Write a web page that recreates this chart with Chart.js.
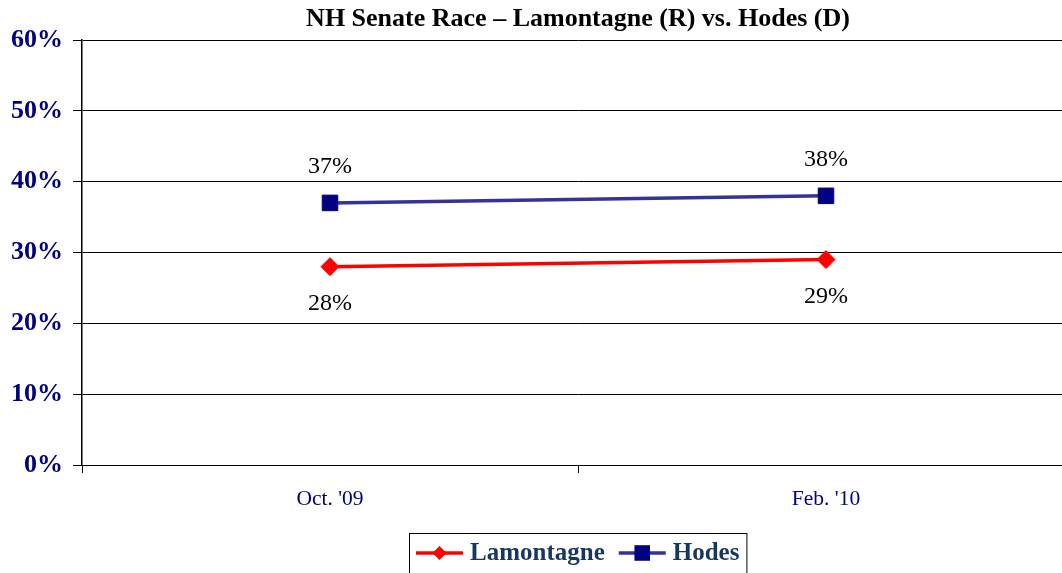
<!DOCTYPE html>
<html>
<head>
<meta charset="utf-8">
<script src="https://cdn.jsdelivr.net/npm/chart.js@4.4.1/dist/chart.umd.min.js"></script>
<style>
    html, body { margin: 0; padding: 0; background: #fff; overflow: hidden; }
    #wrap { width: 1086px; height: 573px; }
</style>
</head>
<body>
<div id="wrap"><canvas id="raceChart" width="1086" height="573"></canvas></div>
<script>
const categories = ["Oct. '09", "Feb. '10"];
const lamontagne = [28, 29];
const hodes = [37, 38];
const yMin = 0;
const yMax = 60;
const yStep = 10;

const serif = '"Liberation Serif", "Times New Roman", serif';

// valores em cima / embaixo dos pontos
const pointLabels = {
    id: 'pointLabels',
    afterDatasetsDraw(chart) {
        const ctx = chart.ctx;
        ctx.save();
        ctx.font = '24px ' + serif;
        ctx.fillStyle = '#000';
        ctx.textAlign = 'center';
        ctx.textBaseline = 'middle';
        chart.data.datasets.forEach((ds, i) => {
            const meta = chart.getDatasetMeta(i);
            meta.data.forEach((pt, j) => {
                const dy = ds.labelSide === 'above' ? -36 : 37;
                ctx.fillText(ds.data[j] + '%', pt.x, pt.y + dy);
            });
        });
        ctx.restore();
    }
};

// legenda com linha + marcador, dentro de uma caixa
const boxLegend = {
    id: 'boxLegend',
    afterDraw(chart) {
        const ctx = chart.ctx;
        const area = chart.chartArea;
        const sample = 47, gap = 7, itemGap = 14, pad = 7;
        ctx.save();
        ctx.font = 'bold 25px ' + serif;
        const items = chart.data.datasets.map(ds => ({ ds, w: ctx.measureText(ds.label).width }));
        let total = pad * 2 + itemGap * (items.length - 1);
        items.forEach(it => { total += sample + gap + it.w; });
        const cx = (area.left + area.right) / 2;
        let x = Math.round(cx - total / 2);
        const top = 533;
        const midY = 553;
        ctx.strokeStyle = '#000';
        ctx.lineWidth = 1;
        ctx.strokeRect(x + 0.5, top + 0.5, total, 80);
        x += pad;
        items.forEach(it => {
            const ds = it.ds;
            ctx.strokeStyle = ds.borderColor;
            ctx.lineWidth = ds.borderWidth;
            ctx.beginPath();
            ctx.moveTo(x, midY);
            ctx.lineTo(x + sample, midY);
            ctx.stroke();
            ctx.fillStyle = ds.pointBackgroundColor;
            ctx.beginPath();
            drawMarker(ctx, ds.pointStyle, ds.legendRadius, x + sample / 2, midY);
            ctx.fill();
            x += sample + gap;
            ctx.fillStyle = '#17375E';
            ctx.textAlign = 'left';
            ctx.textBaseline = 'middle';
            ctx.fillText(ds.label, x, midY + 1);
            x += it.w + itemGap;
        });
        ctx.restore();
    }
};

function drawMarker(ctx, style, r, x, y) {
    if (style === 'rect') {
        const s = Math.SQRT1_2 * r;
        ctx.rect(x - s, y - s, 2 * s, 2 * s);
    } else {
        ctx.moveTo(x - r, y);
        ctx.lineTo(x, y - r);
        ctx.lineTo(x + r, y);
        ctx.lineTo(x, y + r);
        ctx.closePath();
    }
}

const ctx = document.getElementById('raceChart').getContext('2d');
new Chart(ctx, {
    type: 'line',
    data: {
        labels: categories,
        datasets: [{
            label: 'Lamontagne',
            data: lamontagne,
            borderColor: '#FF0000',
            backgroundColor: '#FF0000',
            borderWidth: 3.5,
            pointStyle: 'rectRot',
            pointRadius: 9,
            pointBackgroundColor: '#FF0000',
            pointBorderColor: '#FF0000',
            pointBorderWidth: 1,
            legendRadius: 7,
            labelSide: 'below',
            tension: 0
        }, {
            label: 'Hodes',
            data: hodes,
            borderColor: '#333399',
            backgroundColor: '#000080',
            borderWidth: 3.5,
            pointStyle: 'rect',
            pointRadius: 11,
            pointBackgroundColor: '#000080',
            pointBorderColor: '#000080',
            pointBorderWidth: 1,
            legendRadius: 11,
            labelSide: 'above',
            tension: 0
        }]
    },
    options: {
        responsive: false,
        devicePixelRatio: 1,
        animation: false,
        layout: { padding: 0 },
        plugins: {
            legend: { display: false },
            tooltip: { enabled: false },
            title: {
                display: true,
                text: 'NH Senate Race \u2013 Lamontagne (R) vs. Hodes (D)',
                fullSize: false,
                color: '#000',
                font: { family: serif, size: 26, weight: 'bold', lineHeight: 1 },
                padding: { top: 6, bottom: 8 }
            }
        },
        scales: {
            x: {
                offset: true,
                afterFit: s => { s.height = 108; },
                grid: {
                    offset: true,
                    drawOnChartArea: false,
                    tickLength: 8,
                    color: '#000',
                    lineWidth: 1
                },
                border: { color: '#000', width: 1 },
                ticks: {
                    color: '#000080',
                    padding: 13,
                    font: { family: serif, size: 21.5 }
                }
            },
            y: {
                min: yMin,
                max: yMax,
                afterFit: s => { s.width = 82; },
                grid: {
                    color: '#000',
                    lineWidth: 1,
                    tickLength: 9
                },
                border: { color: '#000', width: 1.5 },
                ticks: {
                    stepSize: yStep,
                    color: '#000080',
                    padding: 10,
                    font: { family: serif, size: 26, weight: 'bold' },
                    callback: v => v + '%'
                }
            }
        }
    },
    plugins: [pointLabels, boxLegend]
});
</script>
</body>
</html>
